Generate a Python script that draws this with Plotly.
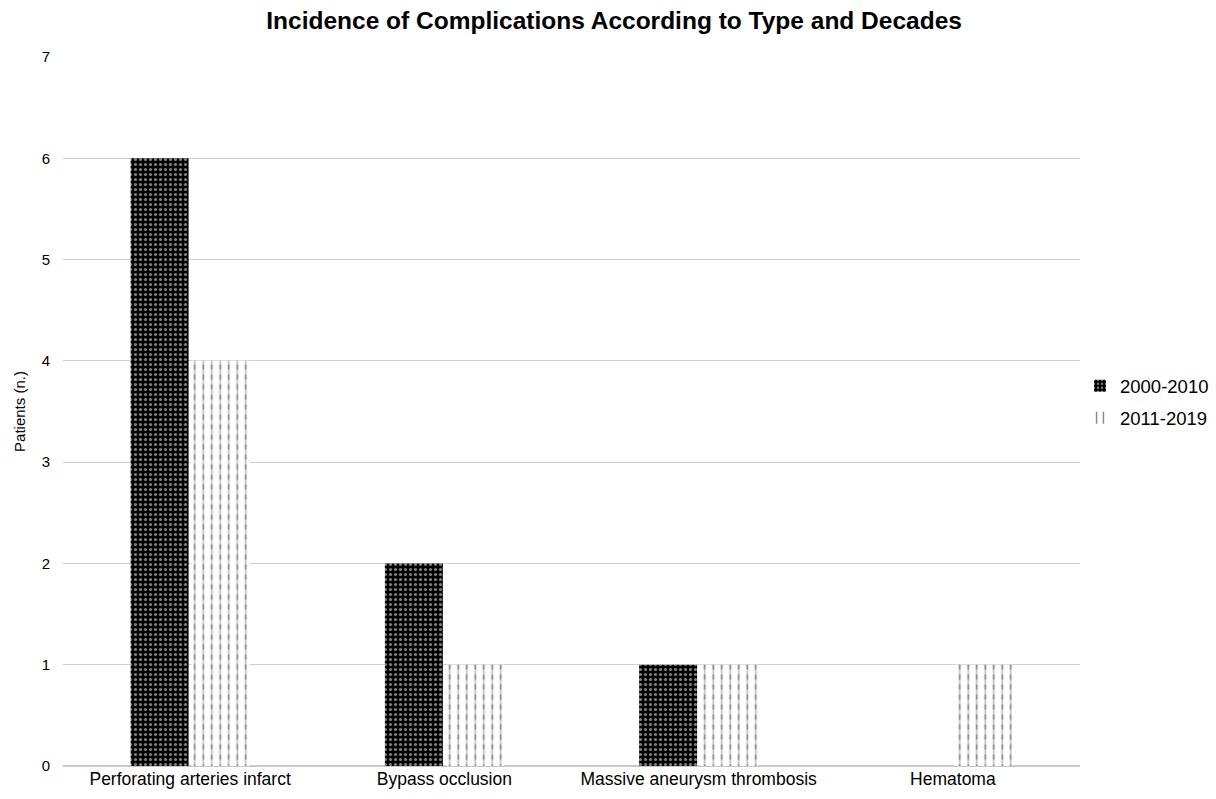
import plotly.graph_objects as go

categories = ["Perforating arteries infarct", "Bypass occlusion",
              "Massive aneurysm thrombosis", "Hematoma"]
decade_2000_2010 = [6, 2, 1, 0]
decade_2011_2019 = [4, 1, 1, 1]
y_ticks = [0, 1, 2, 3, 4, 5, 6, 7]

fig = go.Figure()
fig.add_trace(go.Bar(
    name="2000-2010", x=categories, y=decade_2000_2010, offsetgroup="a",
    legendgroup="a",
    marker=dict(color="black", line=dict(width=0),
                pattern=dict(shape=".", bgcolor="black", fgcolor="white",
                             size=5, solidity=0.3)),
))
fig.add_trace(go.Bar(
    name="2011-2019", x=categories, y=decade_2011_2019, offsetgroup="b",
    legendgroup="b",
    marker=dict(color="white", line=dict(width=0),
                pattern=dict(shape="|", bgcolor="white", fgcolor="black",
                             size=8.5, solidity=0.2)),
))
# white horizontal stripes over the second series break its lines into dashes
fig.add_trace(go.Bar(
    name="2011-2019", x=categories, y=decade_2011_2019, offsetgroup="b",
    legendgroup="b", showlegend=False, hoverinfo="skip",
    marker=dict(color="rgba(0,0,0,0)", line=dict(width=0),
                pattern=dict(shape="-", fillmode="overlay", fgcolor="white",
                             size=10, solidity=0.5)),
))

fig.update_layout(
    width=1216, height=799,
    margin=dict(l=63, r=136, t=57, b=33, autoexpand=False),
    paper_bgcolor="white", plot_bgcolor="white",
    font=dict(family="Liberation Sans, Arial, sans-serif", color="black", size=15),
    title=dict(text="<b>Incidence of Complications According to Type and Decades</b>",
               x=0.505, xanchor="center", y=0.974, yanchor="middle",
               font=dict(size=24.5)),
    barmode="group", bargap=0.52, bargroupgap=0.05,
    legend=dict(x=1.0, xanchor="left", y=0.513, yanchor="middle",
                font=dict(size=18.5), itemwidth=30, tracegroupgap=5),
    xaxis=dict(showgrid=False, showline=False, ticks="",
               tickfont=dict(size=17.5)),
    yaxis=dict(range=[0, 7], tickvals=y_ticks, showgrid=True,
               gridcolor="#d0d0d0", gridwidth=1, zeroline=True,
               zerolinecolor="#c8c8c8", zerolinewidth=1.5,
               ticks="", ticklabelstandoff=12, tickfont=dict(size=15),
               title=dict(text="Patients (n.)", font=dict(size=15), standoff=12)),
)

fig.write_html("out.html")
